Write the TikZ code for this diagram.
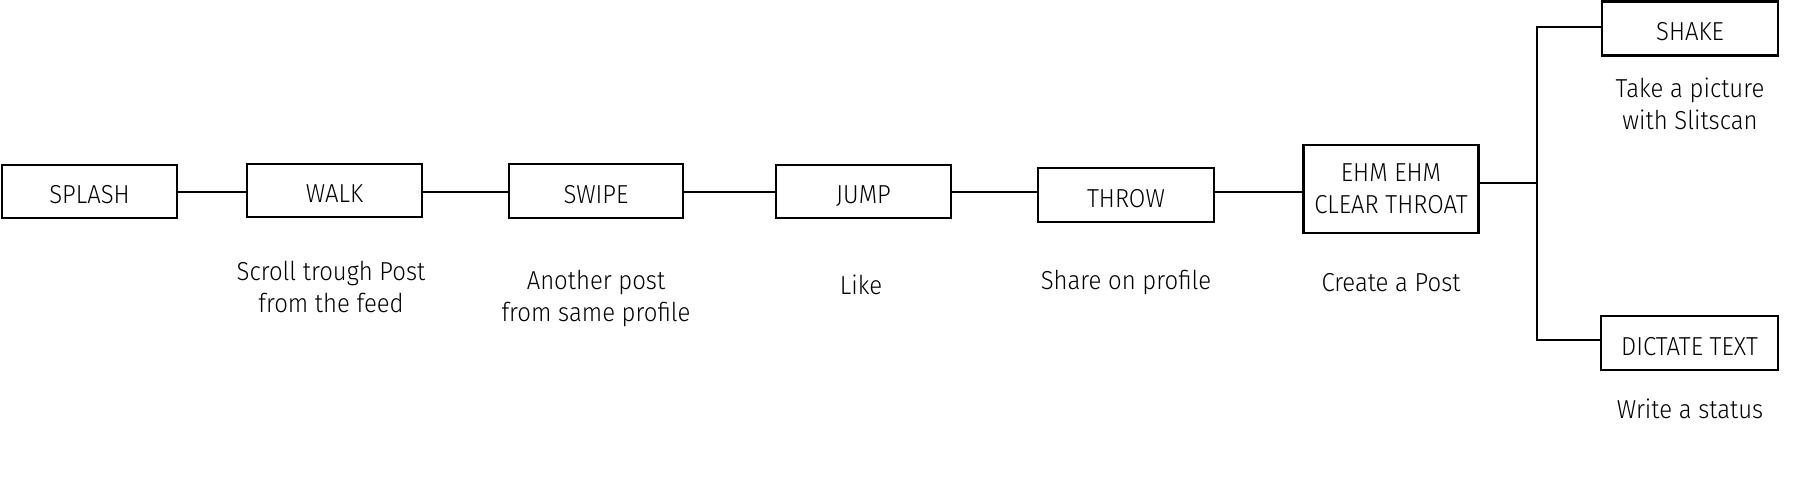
\documentclass[tikz,border=0pt]{standalone}
\usepackage{fontspec}
\setmainfont{Fira Sans Light}[FakeStretch=0.92]
\begin{document}
\begin{tikzpicture}[x=1pt,y=-1pt,
  box/.style={draw=black,line width=2.2pt,minimum width=175pt,minimum height=53pt,inner sep=0pt,align=center,font=\fontsize{26}{32}\selectfont},
  onel/.style={text height=24pt,text depth=0pt},
  lbl/.style={align=center,inner sep=0pt,font=\fontsize{26}{32}\selectfont},
  conn/.style={line width=2.2pt,draw=black}]
\useasboundingbox (0,0) rectangle (1801,482);
\node[box,onel] (splash) at (89.5,191.5) {SPLASH};
\node[box,onel] (walk) at (334.5,190.5) {WALK};
\node[box,onel,minimum width=174pt,minimum height=54pt] (swipe) at (596,191) {SWIPE};
\node[box,onel] (jump) at (863.5,191.5) {JUMP};
\node[box,onel,minimum width=176pt,minimum height=54pt] (throw) at (1126,195) {THROW};
\node[box,minimum height=88pt] (ehm) at (1391,189) {EHM EHM\\CLEAR THROAT};
\node[box,onel,minimum width=176pt,minimum height=54pt] (shake) at (1690,28.5) {SHAKE};
\node[box,onel,minimum width=177pt,minimum height=54pt] (dictate) at (1689.5,343) {DICTATE TEXT};
\node[lbl] (l1) at (331,287) {Scroll trough Post\\from the feed};
\node[lbl] (l2) at (596,299) {Another post\\from same profile};
\node[lbl] (l3) at (861,285) {Like};
\node[lbl] (l4) at (1126,283) {Share on profile};
\node[lbl] (l5) at (1391,283) {Create a Post};
\node[lbl] (l6) at (1690,104) {Take a picture\\with Slitscan};
\node[lbl] (l7) at (1690,409) {Write a status};
\coordinate (fork) at (1537,183);
\draw[conn] (splash.east |- 0,192) -- (walk.west |- 0,192);
\draw[conn] (walk.east |- 0,192) -- (swipe.west |- 0,192);
\draw[conn] (swipe.east |- 0,192) -- (jump.west |- 0,192);
\draw[conn] (jump.east |- 0,192) -- (throw.west |- 0,192);
\draw[conn] (throw.east |- 0,192) -- (ehm.west |- 0,192);
\draw[conn] (ehm.east |- fork) -- (fork);
\draw[conn] (shake.west |- 0,27) -- (fork |- 0,27) -- (fork |- 0,340) -- (dictate.west |- 0,340);
\end{tikzpicture}
\end{document}
